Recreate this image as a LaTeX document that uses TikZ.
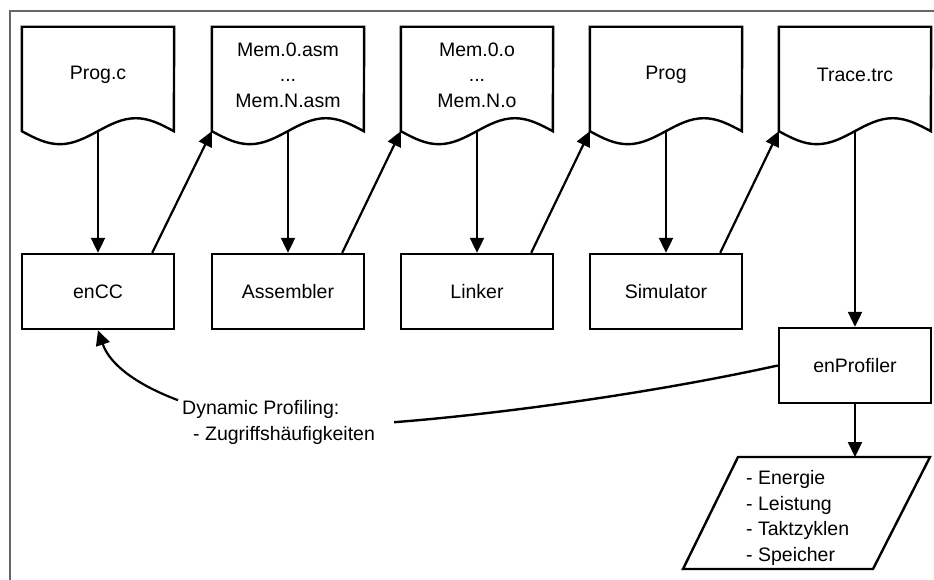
\documentclass[tikz,border=0pt]{standalone}
\usepackage{fontspec}
\setmainfont{Liberation Sans}
\usetikzlibrary{arrows.meta}
\begin{document}
\begin{tikzpicture}[x=1pt,y=-1pt,
  font=\fontsize{19.5}{25.5}\selectfont,
  lw/.style={line width=2.4pt},
  proc/.style={draw, line width=2.4pt, fill=white, minimum width=152pt,
    minimum height=75pt, inner sep=0pt},
  docarea/.style={minimum width=152pt, minimum height=104pt, inner sep=0pt},
  doctext/.style={align=center, inner sep=0pt},
  arr/.style={line width=2.2pt, -{Triangle[length=15pt,width=14pt]}},
  framestyle/.style={line width=1.2pt, draw=black!60}]
\useasboundingbox (0,0) rectangle (934,580);

% outer frame (top and left edges)
\coordinate (frbl) at (10,580);
\coordinate (frtl) at (10,11);
\coordinate (frtr) at (934,11);
\draw[framestyle] (frbl) -- (frtl) -- (frtr);

% document shape: rectangle with a wavy lower edge
\newcommand{\docnode}[3]{%
  \node[docarea] (#1) at (#2,79) {};
  \draw[lw, fill=white] (#1.north west) -- (#1.south west)
    sin ++(38,13) cos ++(38,-13) sin ++(38,-13) cos ++(38,13)
    -- (#1.north east) -- cycle;
  \node[doctext] (#1-t) at (#2,75) {#3};
}

\docnode{progc}{98}{Prog.c}
\docnode{asm}{288}{Mem.0.asm\\...\\Mem.N.asm}
\docnode{obj}{477}{Mem.0.o\\...\\Mem.N.o}
\docnode{prog}{666}{Prog}
\docnode{trace}{855}{Trace.trc}

% tools
\node[proc] (encc) at (98,291.5) {enCC};
\node[proc] (assembler) at (288,291.5) {Assembler};
\node[proc] (linker) at (477,291.5) {Linker};
\node[proc] (simulator) at (666,291.5) {Simulator};
\node[proc] (enprof) at (855,365.5) {enProfiler};

% results
\coordinate (restl) at (738,457);
\coordinate (restr) at (930,457);
\coordinate (resbr) at (873,569);
\coordinate (resbl) at (683,569);
\coordinate (restop) at (855,457);
\draw[lw] (restl) -- (restr) -- (resbr) -- (resbl) -- cycle;
\node[anchor=base west, align=left, inner sep=0pt] (restext) at (746,561)
  {- Energie\\- Leistung\\- Taktzyklen\\- Speicher};

% feedback label
\node[anchor=base west, align=left, inner sep=0pt] (dyn) at (182,440)
  {Dynamic Profiling:\\\hspace*{11pt}- Zugriffsh\"aufigkeiten};

% tool chain flow
\draw[arr] (progc.south) -- (encc.north);
\draw[arr] ([xshift=-23pt]encc.north east) -- (asm.south west);
\draw[arr] (asm.south) -- (assembler.north);
\draw[arr] ([xshift=-23pt]assembler.north east) -- (obj.south west);
\draw[arr] (obj.south) -- (linker.north);
\draw[arr] ([xshift=-23pt]linker.north east) -- (prog.south west);
\draw[arr] (prog.south) -- (simulator.north);
\draw[arr] ([xshift=-23pt]simulator.north east) -- (trace.south west);
\draw[arr] (trace.south) -- (enprof.north);
\draw[arr] (enprof.south) -- (restop);

% profiling feedback to the compiler
\draw[lw] (enprof.west) .. controls +(-127,28) and +(103,-8) .. ([xshift=19pt]dyn.east);
\draw[arr] ([xshift=-4pt]dyn.north west) .. controls +(-40,-15) and +(12,35) .. (encc.south);
\end{tikzpicture}
\end{document}
